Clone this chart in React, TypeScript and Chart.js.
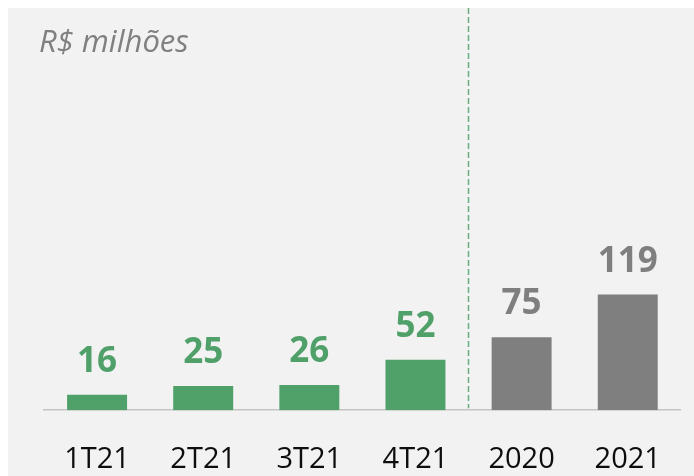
import React, { useEffect, useRef } from "react";
import { Chart, registerables } from "chart.js";

Chart.register(...registerables);

const categories = ["1T21", "2T21", "3T21", "4T21", "2020", "2021"];
const values = [16, 25, 26, 52, 75, 119];
const barColors = ["#50a06a", "#50a06a", "#50a06a", "#50a06a", "#7f7f7f", "#7f7f7f"];
const unitLabel = "R$ milhões";

const FONT = "'Open Sans', 'DejaVu Sans', sans-serif";

const overlayPlugin = {
  id: "overlay",
  afterDatasetsDraw(chart: any) {
    const ctx = chart.ctx;
    const meta = chart.getDatasetMeta(0);
    const area = chart.chartArea;
    ctx.save();
    // dashed separator between quarters and years
    const b3 = meta.data[3];
    const b4 = meta.data[4];
    const sx = Math.round((b3.x + b4.x) / 2) - 0.5;
    ctx.strokeStyle = "#6aae80";
    ctx.lineWidth = 1.5;
    ctx.setLineDash([6, 3]);
    ctx.beginPath();
    ctx.moveTo(sx, 0);
    ctx.lineTo(sx, area.bottom - 2);
    ctx.stroke();
    ctx.setLineDash([]);
    // value labels
    ctx.font = `bold 35px ${FONT}`;
    ctx.textAlign = "center";
    ctx.textBaseline = "alphabetic";
    meta.data.forEach((bar: any, i: number) => {
      ctx.fillStyle = barColors[i];
      ctx.fillText(String(values[i]), bar.x, bar.y - 23);
    });
    // unit label
    ctx.font = `italic 31px ${FONT}`;
    ctx.fillStyle = "#808080";
    ctx.textAlign = "left";
    ctx.fillText(unitLabel, 31, 44);
    ctx.restore();
  },
};

export default function App() {
  const ref = useRef<HTMLCanvasElement>(null);
  useEffect(() => {
    if (!ref.current) return;
    const chart = new Chart(ref.current, {
      type: "bar",
      data: {
        labels: categories,
        datasets: [
          {
            data: values,
            backgroundColor: barColors,
            categoryPercentage: 1,
            barPercentage: 0.565,
          },
        ],
      },
      options: {
        responsive: false,
        animation: false,
        layout: { padding: { left: 36, right: 13, top: 0, bottom: -33 } },
        plugins: { legend: { display: false }, tooltip: { enabled: false } },
        scales: {
          x: {
            grid: { display: false, drawTicks: false },
            border: { display: true, color: "#c4c4c4", width: 1.5 },
            ticks: {
              color: "#0d0d0d",
              font: { family: FONT, size: 29 },
              padding: 32,
            },
          },
          y: { display: false, min: 0, max: 414 },
        },
      },
      plugins: [overlayPlugin],
    });
    return () => chart.destroy();
  }, []);
  return (
    <div
      style={{
        position: "absolute",
        left: 8,
        top: 8,
        width: 686,
        height: 468,
        background: "#f2f2f2",
      }}
    >
      <canvas ref={ref} width={686} height={468} style={{ display: "block" }} />
    </div>
  );
}
